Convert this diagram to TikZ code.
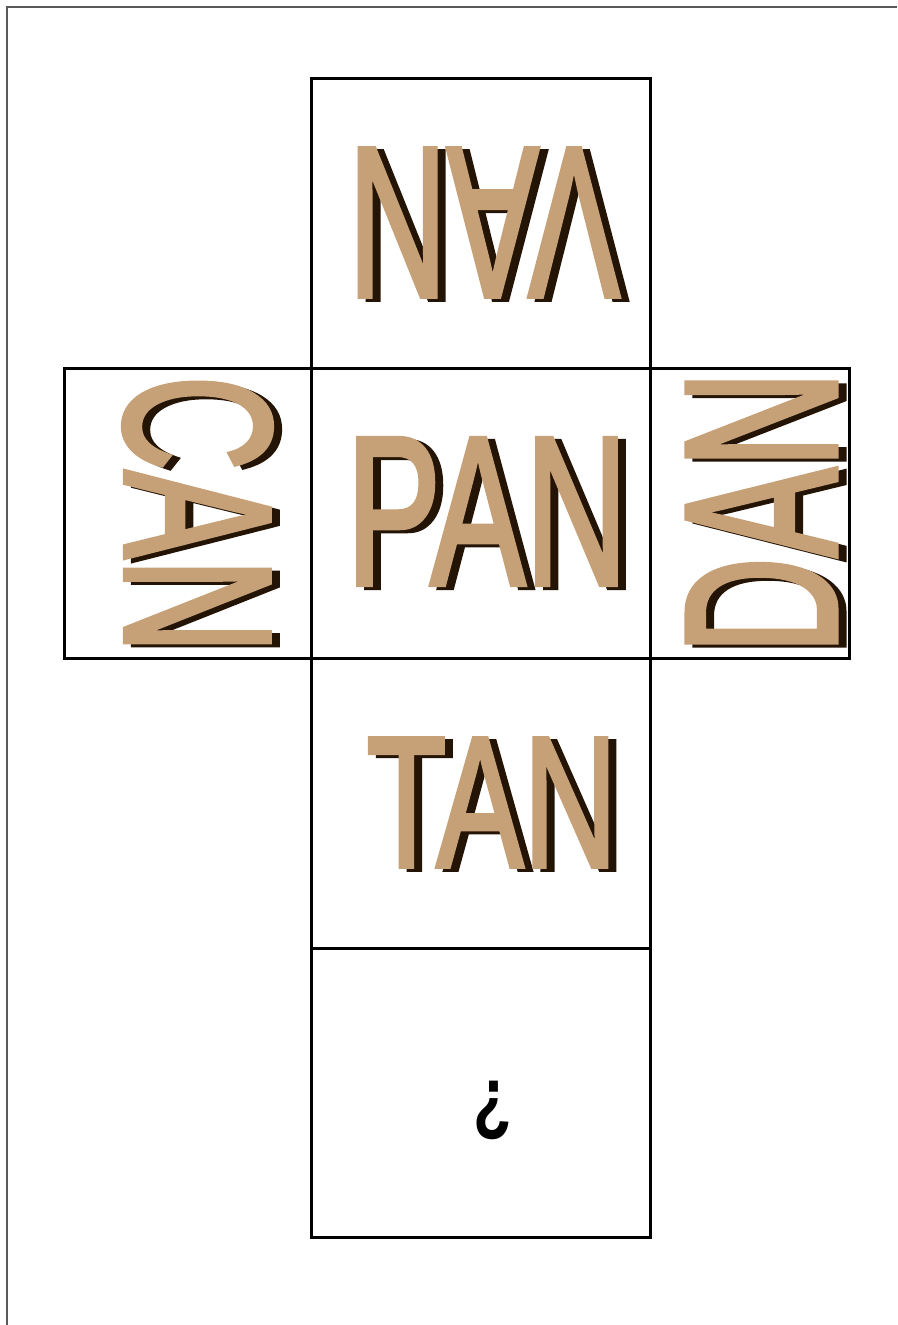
\documentclass[tikz,border=0pt]{standalone}
\usepackage{fontspec}
\setmainfont{Liberation Sans}
\newfontfamily\wordfont[FakeBold=2.5]{Liberation Sans}
\definecolor{tanfill}{RGB}{198,160,118}
\definecolor{shadowbrown}{RGB}{36,20,6}
\definecolor{pageline}{RGB}{90,90,90}
\tikzset{
  face/.style={draw=black, line width=3pt},
  wordtan/.style={inner sep=0pt, text=tanfill},
  wordshadow/.style={inner sep=0pt, text=shadowbrown},
  pageedge/.style={draw=pageline, line width=1.3pt},
}
\newcommand{\texword}[7]{%
  \node[wordshadow, rotate=#4] (#1s) at ([shift={(8,3)}]#2,#3) {\scalebox{#6}[1]{\wordfont\fontsize{#5}{#5}\selectfont #7}};
  \node[wordtan, rotate=#4] (#1) at (#2,#3) {\scalebox{#6}[1]{\wordfont\fontsize{#5}{#5}\selectfont #7}};
}
\begin{document}
\begin{tikzpicture}[x=1pt,y=-1pt]
\useasboundingbox (0,0) rectangle (897,1325);
% page edges
\coordinate (pbl) at (7,1325);
\coordinate (ptl) at (7,7);
\coordinate (ptr) at (897,7);
\draw[pageedge] (pbl) -- (ptl) -- (ptr);
% faces of the net
\draw[face] (311,78) rectangle (650,368);
\draw[face] (64,368) rectangle (311,658);
\draw[face] (311,368) rectangle (650,658);
\draw[face] (650,368) rectangle (849,658);
\draw[face] (311,658) rectangle (650,948);
\draw[face] (311,948) rectangle (650,1237);
% words
\texword{van}{484}{222.5}{180}{214}{0.64}{VAN}
\texword{can}{197.5}{514.5}{-90}{209}{0.63}{CAN}
\texword{pan}{487}{511.5}{0}{212}{0.67}{PAN}
\texword{dan}{761.5}{512.5}{90}{216}{0.62}{DAN}
\texword{tan}{492}{802.5}{0}{186}{0.70}{TAN}
\node[inner sep=0pt, anchor=base] (qm) at (493,1125) {\scalebox{0.75}[1]{\bfseries\fontsize{84}{84}\selectfont ¿}};
\end{tikzpicture}
\end{document}
